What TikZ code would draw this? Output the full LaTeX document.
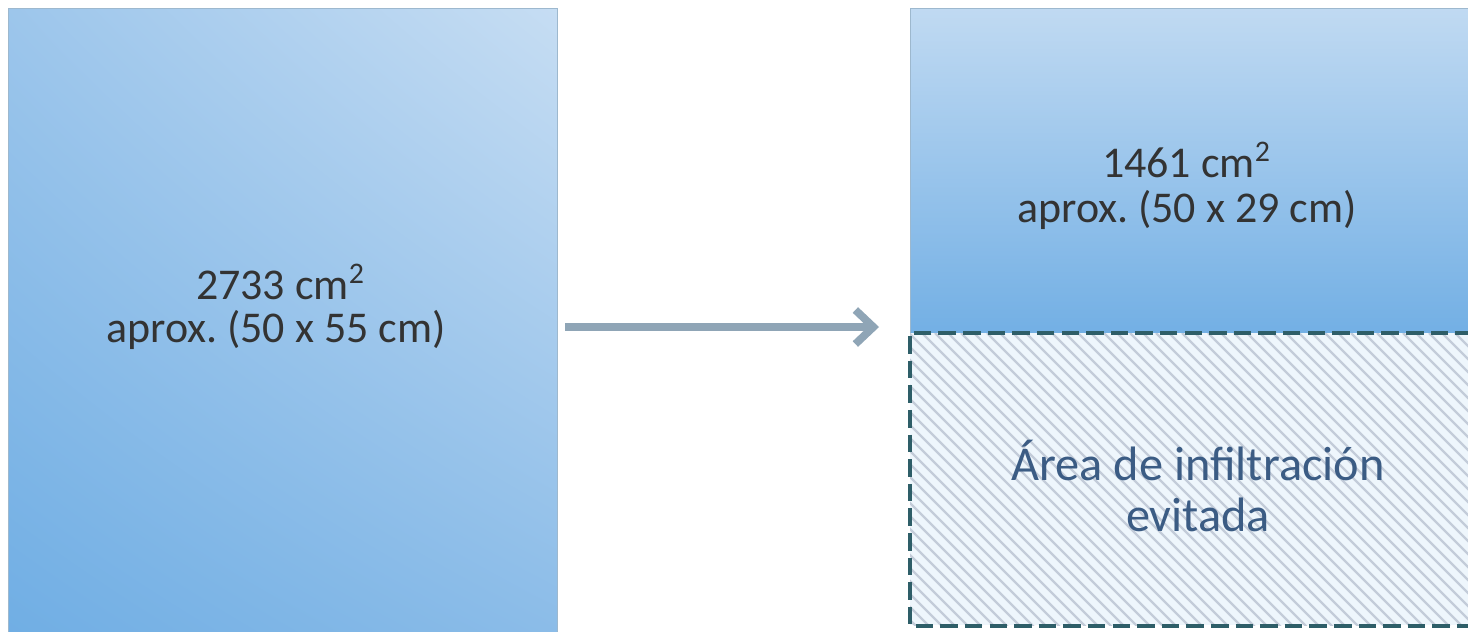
\documentclass[tikz,border=0pt]{standalone}
\usepackage{fontspec}
\setmainfont{Carlito}
\usetikzlibrary{arrows.meta,shadings}
\definecolor{azulclaro}{HTML}{C6DDF3}
\definecolor{azulmedio}{HTML}{8BBCE8}
\definecolor{azuloscuro}{HTML}{70AEE4}
\definecolor{bordeazul}{HTML}{9DB8CE}
\definecolor{rayado}{HTML}{C3CCD9}
\definecolor{fondorayado}{HTML}{EEF6FC}
\definecolor{trazo}{HTML}{2E5E68}
\definecolor{flechagris}{HTML}{8FA5B6}
\definecolor{textogris}{HTML}{333333}
\definecolor{textoazul}{HTML}{3B5C84}
\newcommand{\cuad}{\raisebox{0.75ex}{\fontsize{17}{17}\selectfont 2}}
\tikzset{
  area/.style={draw=bordeazul,line width=0.3pt,inner sep=0pt,anchor=north west},
  etiqueta/.style={font=\fontsize{25}{29}\selectfont,text=textogris,align=center,inner sep=1pt},
  evitada/.style={font=\fontsize{27.5}{33}\selectfont,text=textoazul,align=center,inner sep=1pt},
  flecha/.style={-{Straight Barb[length=3.6mm,width=6.8mm,line width=4.4pt]},flechagris,line width=4pt}
}
\begin{document}
\begin{tikzpicture}[x=0.2mm,y=-0.2mm]
	\useasboundingbox[fill=white] (0,0) rectangle (1468,631);

	% bloques
	\node[area,minimum width=549*0.2mm,minimum height=626*0.2mm,
	      lower left=azuloscuro,upper right=azulclaro,upper left=azulmedio!70!azulclaro,lower right=azulmedio] (grande) at (8,8) {};
	\node[area,minimum width=562*0.2mm,minimum height=325*0.2mm,
	      top color=azulclaro!90!azulmedio,bottom color=azuloscuro!90!azulmedio] (reducido) at (910,8) {};
	\node[inner sep=0pt,anchor=north west,fill=fondorayado,minimum width=562*0.2mm,minimum height=292*0.2mm] (hueco) at (910,333) {};

	% rayado
	\begin{scope}
		\clip (hueco.south west) rectangle (hueco.north east);
		\foreach \k in {0,...,75}
			\draw[rayado,line width=1.4pt] (610+13*\k,333) -- ++(300,300);
	\end{scope}
	\draw[trazo,line width=2.2pt,dash pattern=on 10pt off 4pt] (hueco.north east) -- (hueco.north west) -- (hueco.south west) -- (hueco.south east);

	% textos
	\node[etiqueta] (t1) at (280,282) {2733 cm\cuad};
	\node[etiqueta] (t2) at (276,330) {aprox.\ (50 x 55 cm)};
	\node[etiqueta] (t3) at (1186,160) {1461 cm\cuad};
	\node[etiqueta] (t4) at (1187,210) {aprox.\ (50 x 29 cm)};
	\node[evitada] (t5) at (1198,460) {Área de infiltración};
	\node[evitada] (t6) at (1198,515) {evitada};

	% flecha
	\coordinate (ini) at (565,327);
	\coordinate (fin) at (879,327);
	\draw[flecha] (ini) -- (fin);
\end{tikzpicture}
\end{document}
